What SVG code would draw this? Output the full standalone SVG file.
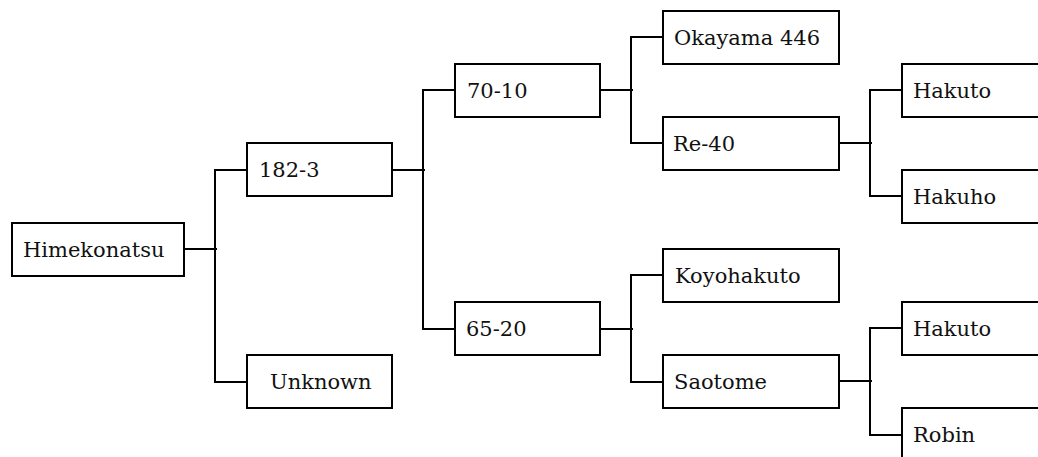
<svg xmlns="http://www.w3.org/2000/svg" width="1038" height="457" viewBox="0 0 1038 457">
<style>
rect{fill:#fff;stroke:#000;stroke-width:2}
text{font-family:'DejaVu Serif','Liberation Serif',serif;font-size:21px;fill:#111}
.c path{fill:none;stroke:#000;stroke-width:2}
</style>
<rect x="0" y="0" width="1038" height="457" style="stroke:none"/>
<g class="c" id="connectors">
<path d="M184,249 H217"/><path d="M247,170 H215 V382 H247"/>
<path d="M392,170 H425"/><path d="M455,90 H423 V329 H455"/>
<path d="M600,90 H633"/><path d="M663,37 H631 V143 H663"/>
<path d="M839,143 H872"/><path d="M902,90 H870 V196 H902"/>
<path d="M600,329 H633"/><path d="M663,275 H631 V382 H663"/>
<path d="M839,381 H872"/><path d="M902,328 H870 V435 H902"/>
</g>
<g id="himekonatsu"><rect x="12" y="223" width="172" height="53"/><text x="23" y="257">Himekonatsu</text></g>
<g id="n182-3"><rect x="247" y="143" width="145" height="53"/><text x="259" y="177">182-3</text></g>
<g id="unknown"><rect x="247" y="355" width="145" height="53"/><text x="270" y="389">Unknown</text></g>
<g id="n70-10"><rect x="455" y="64" width="145" height="53"/><text x="467" y="98">70-10</text></g>
<g id="n65-20"><rect x="455" y="302" width="145" height="53"/><text x="466" y="336">65-20</text></g>
<g id="okayama446"><rect x="663" y="11" width="176" height="53"/><text x="674" y="45">Okayama 446</text></g>
<g id="re-40"><rect x="663" y="117" width="176" height="53"/><text x="673" y="151">Re-40</text></g>
<g id="koyohakuto"><rect x="663" y="249" width="176" height="53"/><text x="675" y="283">Koyohakuto</text></g>
<g id="saotome"><rect x="663" y="355" width="176" height="53"/><text x="674" y="389">Saotome</text></g>
<g id="hakuto1"><rect x="902" y="64" width="160" height="53"/><text x="913" y="98">Hakuto</text></g>
<g id="hakuho"><rect x="902" y="170" width="160" height="53"/><text x="913" y="204">Hakuho</text></g>
<g id="hakuto2"><rect x="902" y="302" width="160" height="53"/><text x="913" y="336">Hakuto</text></g>
<g id="robin"><rect x="902" y="408" width="160" height="53"/><text x="913" y="442">Robin</text></g>
</svg>
